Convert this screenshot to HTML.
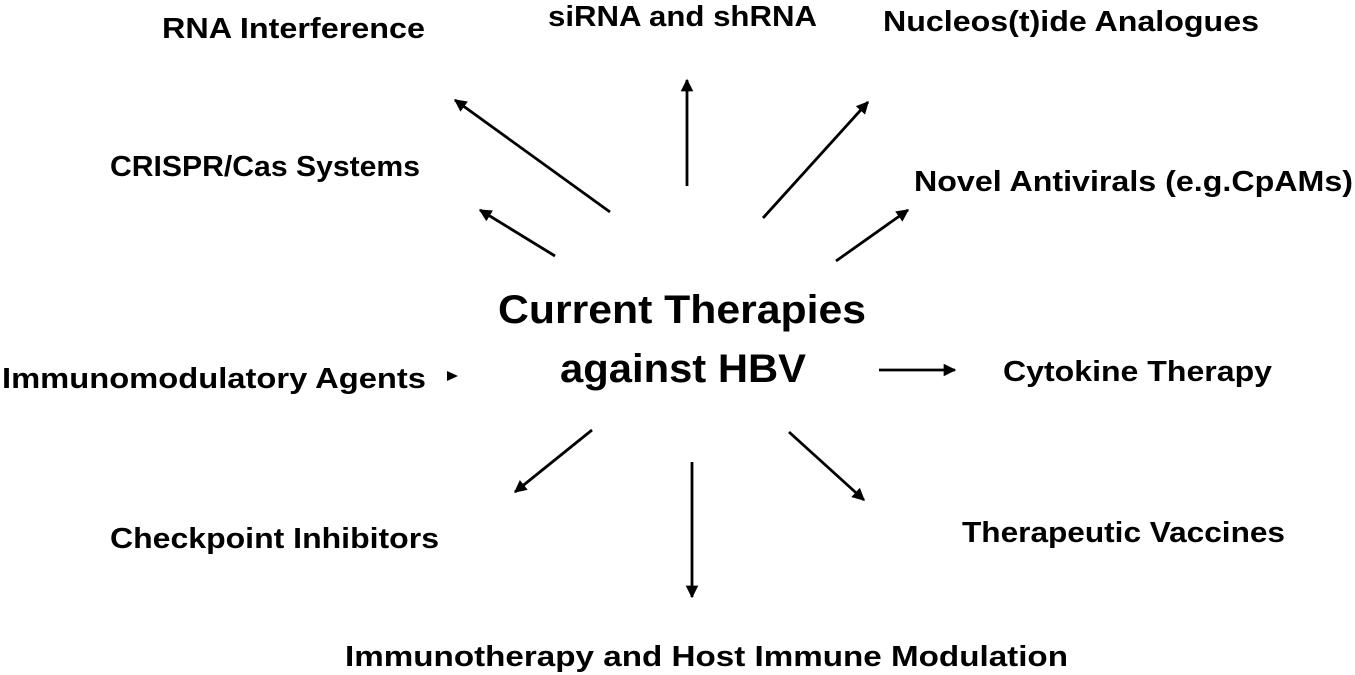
<!DOCTYPE html>
<html><head><style>html,body{margin:0;padding:0;background:#fff;width:1355px;height:675px;overflow:hidden}</style></head>
<body>
<svg width="1355" height="675" xmlns="http://www.w3.org/2000/svg" font-family="Liberation Sans, sans-serif" font-weight="bold">
<defs><marker id="a" viewBox="0 0 10 10" refX="9" refY="5" markerWidth="4.5" markerHeight="4.5" orient="auto" markerUnits="strokeWidth"><path d="M0,0 L10,5 L0,10 z" fill="#000"/></marker></defs>
<g font-size="29" fill="#000" lengthAdjust="spacingAndGlyphs">
<text x="162" y="38" textLength="263" lengthAdjust="spacingAndGlyphs">RNA Interference</text>
<text x="548" y="26" textLength="269" lengthAdjust="spacingAndGlyphs">siRNA and shRNA</text>
<text x="883" y="31" textLength="376" lengthAdjust="spacingAndGlyphs">Nucleos(t)ide Analogues</text>
<text x="110" y="176" textLength="310" lengthAdjust="spacingAndGlyphs">CRISPR/Cas Systems</text>
<text x="914" y="191" textLength="439" lengthAdjust="spacingAndGlyphs">Novel Antivirals (e.g.CpAMs)</text>
<text x="2" y="388" textLength="424" lengthAdjust="spacingAndGlyphs">Immunomodulatory Agents</text>
<text x="1003" y="381" textLength="269" lengthAdjust="spacingAndGlyphs">Cytokine Therapy</text>
<text x="110" y="548" textLength="329" lengthAdjust="spacingAndGlyphs">Checkpoint Inhibitors</text>
<text x="962" y="542" textLength="323" lengthAdjust="spacingAndGlyphs">Therapeutic Vaccines</text>
<text x="345" y="666" textLength="723" lengthAdjust="spacingAndGlyphs">Immunotherapy and Host Immune Modulation</text>
</g>
<g font-size="40" fill="#000">
<text x="498" y="323" textLength="368" lengthAdjust="spacingAndGlyphs">Current Therapies</text>
<text x="560" y="382" textLength="246" lengthAdjust="spacingAndGlyphs">against HBV</text>
</g>
<g stroke="#000" stroke-width="2.8" marker-end="url(#a)">
<line x1="610" y1="212" x2="455" y2="100"/>
<line x1="555" y1="256" x2="480" y2="210"/>
<line x1="687" y1="186" x2="687" y2="80"/>
<line x1="763" y1="218" x2="868" y2="102"/>
<line x1="836" y1="261" x2="908" y2="210"/>
<line x1="879" y1="370" x2="955" y2="370"/>
<line x1="592" y1="430" x2="515" y2="492"/>
<line x1="692" y1="462" x2="692" y2="597"/>
<line x1="789" y1="432" x2="864" y2="500"/>
</g>
<path d="M447,371 L458,376 L447,381 z" fill="#000"/>
</svg>
</body></html>
